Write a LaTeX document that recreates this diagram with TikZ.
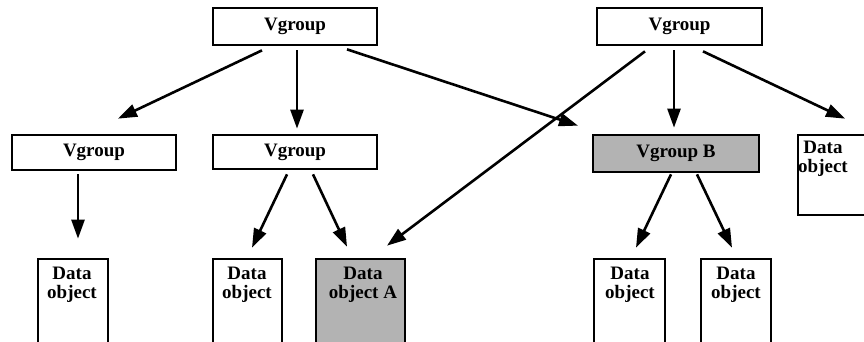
\documentclass[tikz,border=0pt]{standalone}
\usepackage{fontspec}
\setmainfont{Liberation Serif}
\usetikzlibrary{arrows.meta,calc}
\definecolor{boxgray}{RGB}{179,179,179}
\begin{document}
\begin{tikzpicture}[x=1pt,y=-1pt,
  box/.style={draw=black, line width=2.7pt, fill=white, inner sep=0pt},
  grayed/.style={fill=boxgray},
  txt/.style={font=\bfseries\fontsize{19}{19}\selectfont, align=center, inner sep=0pt},
  lbl/.style={txt, anchor=north},
  arr/.style={line width=2.6pt, -{Triangle[length=19pt,width=13pt]}}]
\useasboundingbox (0,0) rectangle (864,341);
\clip (0,0) rectangle (864,341);
% top level
\node[box, txt, minimum width=164pt, minimum height=37pt] (t1) at (295,26.5) {Vgroup};
\node[box, txt, minimum width=165pt, minimum height=37pt] (t2) at (679.5,26.5) {Vgroup};
% middle level
\node[box, txt, minimum width=164pt, minimum height=35pt] (m1) at (94,152.5) {Vgroup};
\node[box, txt, minimum width=164pt, minimum height=34pt] (m2) at (295,152) {Vgroup};
\node[box, grayed, txt, minimum width=166pt, minimum height=37pt] (vb) at (676,153.5) {Vgroup B};
\node[box, minimum width=82pt, minimum height=80pt] (rdo) at (839,175) {};
\node[lbl] (rdot) at (823,141) {Data\\object};
% bottom level
\node[box, minimum width=70pt, minimum height=101pt] (d1) at (73,309.5) {};
\node[lbl] (d1t) at (72,267) {Data\\object};
\node[box, minimum width=69pt, minimum height=101pt] (d2) at (247.5,309.5) {};
\node[lbl] (d2t) at (247,267) {Data\\object};
\node[box, grayed, minimum width=89pt, minimum height=101pt] (da) at (360.5,309.5) {};
\node[lbl] (dat) at (363,267) {Data\\object A};
\node[box, minimum width=71pt, minimum height=101pt] (d3) at (629.5,309.5) {};
\node[lbl] (d3t) at (630,267) {Data\\object};
\node[box, minimum width=70pt, minimum height=101pt] (d4) at (736,309.5) {};
\node[lbl] (d4t) at (736,267) {Data\\object};
% connectors
\draw[arr] ($(t1.south)+(-33,4)$) -- ($(m1.north)+(24,-15)$);
\draw[arr] ($(t1.south)+(2,4)$) -- ($(m2.north)+(2,-5)$);
\draw[arr] ($(t1.south)+(52,3)$) -- ($(vb.north)+(-98,-8)$);
\draw[arr] ($(t2.south)+(-34.5,5)$) -- ($(da.north)+(26.5,-12)$);
\draw[arr] ($(t2.south)+(-5.5,4)$) -- ($(vb.north)+(-2,-6)$);
\draw[arr] ($(t2.south)+(23.5,5)$) -- ($(rdo.north)+(6,-15)$);
\draw[arr] ($(m1.south)+(-16,3)$) -- ($(d1.north)+(5,-19)$);
\draw[arr] ($(m2.south)+(-8,4)$) -- ($(d2.north)+(4.5,-10)$);
\draw[arr] ($(m2.south)+(18,4)$) -- ($(da.north)+(-13.5,-11)$);
\draw[arr] ($(vb.south)+(-5,1)$) -- ($(d3.north)+(6.5,-10)$);
\draw[arr] ($(vb.south)+(21,1)$) -- ($(d4.north)+(-4,-10)$);
\end{tikzpicture}
\end{document}
